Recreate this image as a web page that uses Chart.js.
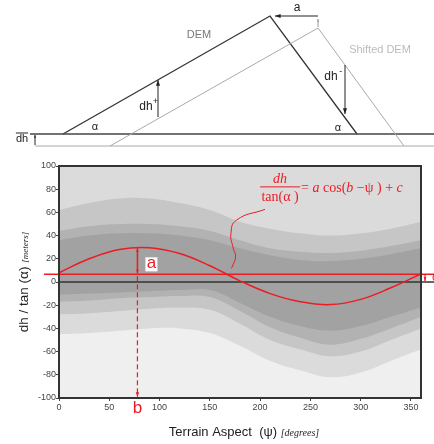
<!DOCTYPE html>
<html>
<head>
<meta charset="utf-8">
<script src="https://cdn.jsdelivr.net/npm/chart.js@4.4.0/dist/chart.umd.min.js"></script>
<style>
  html, body { margin: 0; padding: 0; background: #fff; }
  #wrap { position: relative; width: 434px; height: 444px; }
  #wrap canvas { position: absolute; left: 0; top: 0; }
</style>
</head>
<body>
<div id="wrap">
  <canvas id="chart1" width="434" height="444"></canvas>
  <canvas id="sketch" width="434" height="155"></canvas>
</div>
<script>
// ---- data ----

// scatter cloud, as density bands per aspect bin (dh/tan(alpha), meters)
var aspect      = [0, 30, 60, 90, 120, 150, 180, 210, 240, 270, 300, 330, 360];
var coreTop     = [36, 40, 42, 42, 40, 36, 29, 23, 19, 18, 20, 24, 29];
var coreBottom  = [-11, -10, -9, -8, -7, -7, -18, -30, -38, -42, -38, -30, -22];
var denseTop    = [44, 48, 50, 50, 48, 44, 36, 29, 26, 25, 27, 31, 36];
var denseBottom = [-17, -16, -14, -13, -12, -13, -25, -39, -48, -54, -49, -40, -30];
var midTop      = [62, 68, 72, 72, 68, 62, 52, 46, 42, 40, 42, 46, 52];
var midBottom   = [-28, -27, -25, -23, -22, -24, -36, -50, -58, -64, -60, -50, -40];
var lightTop    = [100, 100, 100, 100, 100, 100, 100, 100, 100, 100, 100, 100, 100];
var lightBottom = [-45, -44, -42, -40, -40, -44, -55, -68, -76, -82, -78, -68, -58];
var faintTop    = [100, 100, 100, 100, 100, 100, 100, 100, 100, 100, 100, 100, 100];
var faintBottom = [-100, -100, -100, -100, -100, -100, -100, -100, -100, -100, -100, -100, -100];

// red fitted curve
var fitX = [0, 30, 60, 90, 120, 150, 180, 210, 240, 270, 300, 330, 360];
var fitY = [8, 20, 28, 29.5, 24.5, 14, 1, -10, -17, -19.5, -15, -5, 7];

var cValue = 6.6;     // offset line
var bValue = 78;      // aspect of the maximum
var peakValue = 30;   // top of the "a" arrow

// leader from the formula to the curve (data units)
var leaderX = [204.8, 176.6, 171, 173.3, 175.6, 171.6];
var leaderY = [62.6, 53.4, 41.9, 29, 21.8, 11.8];

var xTicks = [0, 50, 100, 150, 200, 250, 300, 350];
var yTicks = [-100, -80, -60, -40, -20, 0, 20, 40, 60, 80, 100];

// top sketch, in sketch units (x 0..434, y 0..155 downwards)
var demX = [63, 270, 357];
var demY = [134, 16, 134];
var shiftedX = [110, 318, 404];
var shiftedY = [146, 28, 146];
var groundX = [30, 434];
var groundY = [134, 134];
var shiftedGroundX = [35, 434];
var shiftedGroundY = [146, 146];

var RED = '#ec1c24';
var SANS = '"Liberation Sans", Arial, sans-serif';
var SERIF = '"Liberation Serif", "Times New Roman", serif';

function pts(xs, ys) {
  return xs.map(function (x, i) { return { x: x, y: ys[i] }; });
}

function arrowHead(ctx, x1, y1, x2, y2, size) {
  var ang = Math.atan2(y2 - y1, x2 - x1);
  ctx.beginPath();
  ctx.moveTo(x2, y2);
  ctx.lineTo(x2 - size * Math.cos(ang - 0.35), y2 - size * Math.sin(ang - 0.35));
  ctx.lineTo(x2 - size * Math.cos(ang + 0.35), y2 - size * Math.sin(ang + 0.35));
  ctx.closePath();
  ctx.fill();
}

function arrow(ctx, x1, y1, x2, y2, color, width, head, dash, both) {
  ctx.save();
  ctx.strokeStyle = color;
  ctx.fillStyle = color;
  ctx.lineWidth = width;
  ctx.setLineDash(dash || []);
  ctx.beginPath();
  ctx.moveTo(x1, y1);
  ctx.lineTo(x2, y2);
  ctx.stroke();
  ctx.setLineDash([]);
  arrowHead(ctx, x1, y1, x2, y2, head);
  if (both) arrowHead(ctx, x2, y2, x1, y1, head);
  ctx.restore();
}

// draws runs of text with different fonts one after another
function runs(ctx, parts, x, y, align) {
  var total = 0;
  parts.forEach(function (p) { ctx.font = p[1]; total += ctx.measureText(p[0]).width; });
  var cx = align === 'center' ? x - total / 2 : x;
  ctx.textAlign = 'left';
  parts.forEach(function (p) {
    ctx.font = p[1];
    ctx.fillText(p[0], cx, y);
    cx += ctx.measureText(p[0]).width;
  });
}

// ---- main chart ----

// wider bands get a higher order so they are painted first
function bandPair(top, bottom, grey, order) {
  return [
    { data: pts(aspect, top), fill: '+1', backgroundColor: grey,
      borderColor: 'transparent', borderWidth: 0, pointRadius: 0, tension: 0.4, order: order },
    { data: pts(aspect, bottom), fill: false, borderColor: 'transparent', borderWidth: 0,
      pointRadius: 0, tension: 0.4, order: order }
  ];
}

var markup = {
  id: 'markup',
  afterDatasetsDraw: function (chart) {
    var ctx = chart.ctx, area = chart.chartArea;
    var sx = chart.scales.x, sy = chart.scales.y;
    ctx.save();

    // frame
    ctx.strokeStyle = '#333';
    ctx.lineWidth = 2;
    ctx.strokeRect(area.left, area.top, area.right - area.left, area.bottom - area.top);

    var xb = sx.getPixelForValue(bValue);
    var yc = sy.getPixelForValue(cValue);
    var yPeak = sy.getPixelForValue(peakValue);
    var y0 = sy.getPixelForValue(0);

    // a: amplitude
    arrow(ctx, xb, yc - 1, xb, yPeak + 1, RED, 1.5, 4, null, true);
    ctx.fillStyle = '#fff';
    ctx.fillRect(xb + 8, yc - 17, 12, 14);
    ctx.fillStyle = RED;
    ctx.font = '17px ' + SANS;
    ctx.textAlign = 'center';
    ctx.textBaseline = 'middle';
    ctx.fillText('a', xb + 14, yc - 11);

    // b: phase
    arrow(ctx, xb, yc + 2, xb, area.bottom - 1, RED, 1.2, 5, [5, 3]);
    ctx.font = '17px ' + SANS;
    ctx.fillText('b', xb, area.bottom + 10);

    // c: offset
    var xc = sx.getPixelForValue(364);
    arrow(ctx, xc, yc, xc, y0 - 1, RED, 1.2, 4);
    ctx.font = '12px ' + SANS;
    ctx.textAlign = 'left';
    ctx.fillText('c', xc + 7, (yc + y0) / 2);

    // formula
    var fx = sx.getPixelForValue(200), fy = sy.getPixelForValue(82);
    ctx.strokeStyle = RED;
    ctx.lineWidth = 1;
    ctx.beginPath();
    ctx.moveTo(fx, fy);
    ctx.lineTo(fx + 40, fy);
    ctx.stroke();
    ctx.textBaseline = 'alphabetic';
    ctx.textAlign = 'center';
    ctx.font = 'italic 14px ' + SERIF;
    ctx.fillText('dh', fx + 20, fy - 4);
    ctx.font = '14px ' + SERIF;
    ctx.fillText('tan(\u03b1 )', fx + 20, fy + 14);
    runs(ctx, [
      ['= ', '14px ' + SERIF],
      ['a', 'italic 14px ' + SERIF],
      [' cos(', '14px ' + SERIF],
      ['b', 'italic 14px ' + SERIF],
      [' \u2212\u03c8 ) + ', '14px ' + SERIF],
      ['c', 'italic 14px ' + SERIF]
    ], fx + 41, fy + 5, 'left');

    // axis titles
    ctx.fillStyle = '#222';
    runs(ctx, [
      ['Terrain Aspect  (\u03c8) ', '13px ' + SANS],
      ['[degrees]', 'italic 10px ' + SERIF]
    ], (area.left + area.right) / 2 + 4, 436, 'center');

    ctx.translate(28, (area.top + area.bottom) / 2);
    ctx.rotate(-Math.PI / 2);
    runs(ctx, [
      ['dh / tan (\u03b1) ', '13.5px ' + SANS],
      ['[meters]', 'italic 9px ' + SERIF]
    ], 0, 0, 'center');

    ctx.restore();
  }
};

var datasets = []
  .concat(bandPair(faintTop, faintBottom, '#efefef', 9))
  .concat(bandPair(lightTop, lightBottom, '#dbdbdb', 8))
  .concat(bandPair(midTop, midBottom, '#c6c6c6', 7))
  .concat(bandPair(denseTop, denseBottom, '#b2b2b2', 6))
  .concat(bandPair(coreTop, coreBottom, '#a2a2a2', 5))
  .concat([
    { data: [{ x: 0, y: 0 }, { x: 375, y: 0 }], borderColor: '#333', borderWidth: 1.5,
      pointRadius: 0, clip: false, fill: false, order: 2 },
    { data: [{ x: -15, y: cValue }, { x: 375, y: cValue }], borderColor: RED, borderWidth: 1.5,
      pointRadius: 0, clip: false, fill: false, order: 1 },
    { data: pts(fitX, fitY), borderColor: RED, borderWidth: 1.5, pointRadius: 0,
      tension: 0.4, fill: false, order: 1 },
    { data: pts(leaderX, leaderY), borderColor: RED, borderWidth: 1, pointRadius: 0,
      tension: 0.5, fill: false, clip: false, order: 1 }
  ]);

var graph = document.getElementById('chart1');

var myChart = new Chart(graph, {
  type: 'line',
  data: { datasets: datasets },
  options: {
    responsive: false,
    animation: false,
    devicePixelRatio: 1,
    events: [],
    layout: { padding: { top: 166, right: 13, bottom: 0, left: 0 } },
    plugins: { legend: { display: false }, tooltip: { enabled: false } },
    scales: {
      x: {
        type: 'linear', min: 0, max: 360,
        afterFit: function (s) { s.height = 46; },
        afterBuildTicks: function (s) { s.ticks = xTicks.map(function (v) { return { value: v }; }); },
        ticks: { font: { size: 9, family: SANS }, color: '#444', padding: 1, maxRotation: 0 },
        grid: { drawOnChartArea: false, tickLength: 3, color: '#444' },
        border: { display: false }
      },
      y: {
        type: 'linear', min: -100, max: 100,
        afterFit: function (s) { s.width = 59; },
        afterBuildTicks: function (s) { s.ticks = yTicks.map(function (v) { return { value: v }; }); },
        ticks: { font: { size: 9, family: SANS }, color: '#444', padding: 0 },
        grid: { drawOnChartArea: false, tickLength: 3, color: '#444' },
        border: { display: false }
      }
    }
  },
  plugins: [markup]
});

// ---- top sketch ----

var sketchArrows = [
  { x1: 318, y1: 16, x2: 275, y2: 16, color: '#222', head: 6 },
  { x1: 318, y1: 27, x2: 318, y2: 19, color: '#999', head: 3 },
  { x1: 158, y1: 117, x2: 158, y2: 80, color: '#222', head: 6 },
  { x1: 345, y1: 65, x2: 345, y2: 114, color: '#222', head: 6 },
  { x1: 35, y1: 145, x2: 35, y2: 135, color: '#222', head: 3 }
];

var sketchLabels = [
  { text: 'DEM', x: 199, y: 35, color: '#777', size: 11 },
  { text: 'Shifted DEM', x: 380, y: 50, color: '#bbb', size: 11 },
  { text: 'a', x: 297, y: 8, color: '#222', size: 12 },
  { text: '\u03b1', x: 95, y: 127, color: '#222', size: 11 },
  { text: '\u03b1', x: 338, y: 128, color: '#222', size: 11 },
  { text: 'dh', x: 146, y: 107, color: '#222', size: 12, sup: '+' },
  { text: 'dh', x: 331, y: 77, color: '#222', size: 12, sup: '-' },
  { text: 'dh', x: 22, y: 139, color: '#222', size: 11, bar: true }
];

var sketchMarks = {
  id: 'sketchMarks',
  afterDatasetsDraw: function (chart) {
    var ctx = chart.ctx, sx = chart.scales.x, sy = chart.scales.y;
    ctx.save();
    sketchArrows.forEach(function (a) {
      arrow(ctx, sx.getPixelForValue(a.x1), sy.getPixelForValue(a.y1),
        sx.getPixelForValue(a.x2), sy.getPixelForValue(a.y2), a.color, 1, a.head);
    });
    ctx.textAlign = 'center';
    ctx.textBaseline = 'middle';
    sketchLabels.forEach(function (l) {
      var x = sx.getPixelForValue(l.x), y = sy.getPixelForValue(l.y);
      ctx.fillStyle = l.color;
      ctx.font = l.size + 'px ' + SANS;
      ctx.fillText(l.text, x, y);
      var w = ctx.measureText(l.text).width;
      if (l.sup) {
        ctx.font = '9px ' + SANS;
        ctx.fillText(l.sup, x + w / 2 + 3, y - 5);
      }
      if (l.bar) {
        ctx.strokeStyle = l.color;
        ctx.lineWidth = 1;
        ctx.beginPath();
        ctx.moveTo(x - w / 2, y - 6);
        ctx.lineTo(x + w / 2, y - 6);
        ctx.stroke();
      }
    });
    ctx.restore();
  }
};

var sketch = new Chart(document.getElementById('sketch'), {
  type: 'line',
  data: {
    datasets: [
      { data: pts(shiftedGroundX, shiftedGroundY), borderColor: '#aaa', borderWidth: 1 },
      { data: pts(shiftedX, shiftedY), borderColor: '#aaa', borderWidth: 1 },
      { data: pts(groundX, groundY), borderColor: '#444', borderWidth: 1.5 },
      { data: pts(demX, demY), borderColor: '#333', borderWidth: 1.3 }
    ]
  },
  options: {
    responsive: false,
    animation: false,
    devicePixelRatio: 1,
    events: [],
    layout: { padding: 0 },
    elements: { point: { radius: 0 }, line: { tension: 0, fill: false } },
    plugins: { legend: { display: false }, tooltip: { enabled: false } },
    scales: {
      x: { type: 'linear', display: false, min: 0, max: 434 },
      y: { type: 'linear', display: false, min: 0, max: 155, reverse: true }
    }
  },
  plugins: [sketchMarks]
});
</script>
</body>
</html>
